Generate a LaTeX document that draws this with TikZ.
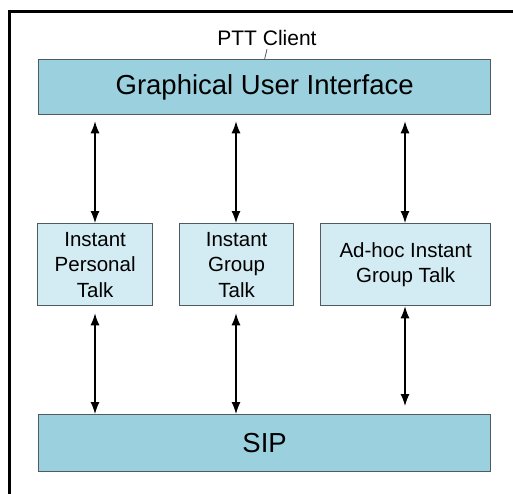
\documentclass[tikz,border=0pt]{standalone}
\usepackage{fontspec}
\setmainfont{Liberation Sans}
\usetikzlibrary{arrows.meta}
\definecolor{darkbox}{HTML}{9BD1DF}
\definecolor{lightbox}{HTML}{D3EBF2}
\definecolor{boxline}{HTML}{4F5B60}
\tikzset{
  bigbox/.style={draw=boxline, line width=1.3pt, fill=darkbox, inner sep=0pt, anchor=north west},
  smallbox/.style={draw=boxline, line width=1.3pt, fill=lightbox, inner sep=0pt, anchor=north west, align=center, font=\fontsize{20.5}{25.5}\selectfont},
  conn/.style={line width=1.2pt, {Latex[length=12pt,width=9pt]}-{Latex[length=12pt,width=9pt]}}
}
\begin{document}
\begin{tikzpicture}[x=1pt,y=-1pt]
\useasboundingbox (0,0) rectangle (513,494);
\draw[line width=3pt] (9,494) -- (9,12) -- (513,12);
\node[bigbox, minimum width=452pt, minimum height=55pt, font=\fontsize{27.5}{33}\selectfont] (gui) at (38,59) {Graphical User Interface};
\node[font=\fontsize{21}{25}\selectfont] (ptt) at (267,38) {PTT Client};
\draw[line width=0.8pt, boxline] (gui.north) -- (ptt.south);
\node[smallbox, minimum width=115pt, minimum height=82pt] (ipt) at (37,223) {Instant\\Personal\\Talk};
\node[smallbox, minimum width=114pt, minimum height=82pt] (igt) at (179,223) {Instant\\Group\\Talk};
\node[smallbox, minimum width=170pt, minimum height=82pt] (ahi) at (320,223) {Ad-hoc Instant\\Group Talk};
\node[bigbox, minimum width=452pt, minimum height=57pt, font=\fontsize{27.5}{33}\selectfont] (sip) at (38,414) {SIP};
\draw[conn, shorten <=6pt] (gui.south -| 95,0) -- (ipt.north -| 95,0);
\draw[conn, shorten <=6pt] (gui.south -| 236,0) -- (igt.north -| 236,0);
\draw[conn, shorten <=6pt] (gui.south -| 405,0) -- (ahi.north -| 405,0);
\draw[conn, shorten <=7pt] (ipt.south -| 95,0) -- (sip.north -| 95,0);
\draw[conn, shorten <=7pt] (igt.south -| 236,0) -- (sip.north -| 236,0);
\draw[conn, shorten >=8pt] (ahi.south -| 405,0) -- (sip.north -| 405,0);
\end{tikzpicture}
\end{document}
